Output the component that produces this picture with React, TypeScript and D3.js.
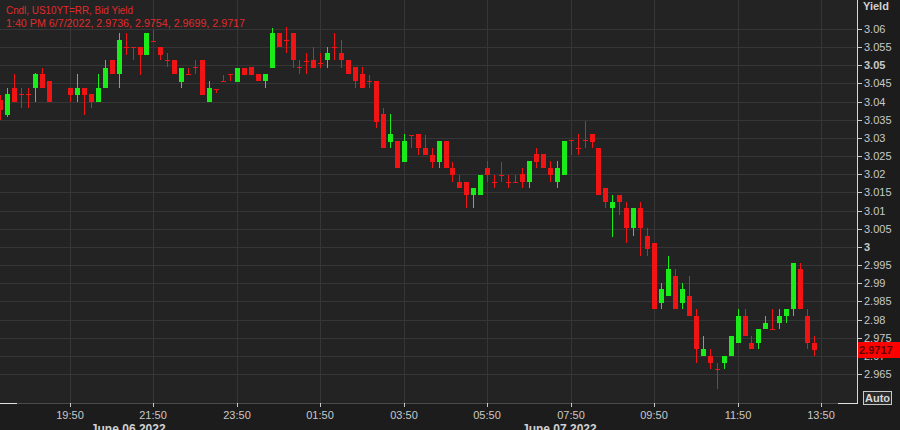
import React from 'react';
import * as d3 from 'd3';

const times = [
  "6/6 18:10","6/6 18:20","6/6 18:30","6/6 18:40","6/6 18:50","6/6 19:00","6/6 19:10","6/6 19:20",
  "6/6 19:50","6/6 20:00","6/6 20:10","6/6 20:20","6/6 20:30","6/6 20:40","6/6 20:50","6/6 21:00",
  "6/6 21:10","6/6 21:20","6/6 21:30","6/6 21:40","6/6 21:50","6/6 22:00","6/6 22:10","6/6 22:20",
  "6/6 22:30","6/6 22:40","6/6 22:50","6/6 23:00","6/6 23:10","6/6 23:20","6/6 23:30","6/6 23:40",
  "6/6 23:50","6/7 00:00","6/7 00:10","6/7 00:20","6/7 00:30","6/7 00:40","6/7 00:50","6/7 01:00",
  "6/7 01:10","6/7 01:20","6/7 01:30","6/7 01:40","6/7 01:50","6/7 02:00","6/7 02:10","6/7 02:20",
  "6/7 02:30","6/7 02:40","6/7 02:50","6/7 03:00","6/7 03:10","6/7 03:20","6/7 03:30","6/7 03:40",
  "6/7 03:50","6/7 04:00","6/7 04:10","6/7 04:20","6/7 04:30","6/7 04:40","6/7 04:50","6/7 05:00",
  "6/7 05:10","6/7 05:20","6/7 05:30","6/7 05:40","6/7 05:50","6/7 06:00","6/7 06:10","6/7 06:20",
  "6/7 06:30","6/7 06:40","6/7 06:50","6/7 07:00","6/7 07:10","6/7 07:20","6/7 07:30","6/7 07:40",
  "6/7 07:50","6/7 08:00","6/7 08:10","6/7 08:20","6/7 08:30","6/7 08:40","6/7 08:50","6/7 09:00",
  "6/7 09:10","6/7 09:20","6/7 09:30","6/7 09:40","6/7 09:50","6/7 10:00","6/7 10:10","6/7 10:20",
  "6/7 10:30","6/7 10:40","6/7 10:50","6/7 11:00","6/7 11:10","6/7 11:20","6/7 11:30","6/7 11:40",
  "6/7 11:50","6/7 12:00","6/7 12:10","6/7 12:20","6/7 12:30","6/7 12:40","6/7 12:50","6/7 13:00",
  "6/7 13:10","6/7 13:20","6/7 13:30","6/7 13:40",
];

const open = [
  3.0404,3.0363,3.0438,3.0422,3.0422,3.0438,3.0476,3.0457,
  3.0438,3.0418,3.0438,3.0421,3.0399,3.0438,3.0515,3.0476,
  3.0551,3.0551,3.055,3.0528,3.0568,3.055,3.0516,3.0515,
  3.0454,3.0477,3.0494,3.0515,3.0399,3.0436,3.0458,3.0477,
  3.0454,3.0493,3.0495,3.0476,3.0457,3.0493,3.0589,3.0571,
  3.0589,3.0494,3.0513,3.0515,3.0507,3.0515,3.0551,3.0534,
  3.0515,3.0495,3.0476,3.0458,3.0457,3.0366,3.0289,3.0292,
  3.0234,3.0309,3.0311,3.0272,3.0253,3.0234,3.0292,3.0217,
  3.0179,3.0179,3.0143,3.0143,3.0217,3.018,3.0199,3.018,
  3.018,3.0201,3.0179,3.0256,3.0256,3.0217,3.0179,3.0198,
  3.0293,3.0273,3.0293,3.0311,3.0272,3.0162,3.0107,3.0143,
  3.0107,3.0052,3.0107,3.003,3.0011,2.9845,2.9865,2.992,
  2.9845,2.9865,2.981,2.97,2.97,2.9665,2.968,2.97,
  2.9735,2.981,2.9735,2.9735,2.9774,2.9775,2.979,2.981,
  2.9829,2.9939,2.981,2.9736,
];

const high = [
  3.0418,3.0438,3.0476,3.0438,3.0438,3.0479,3.0493,3.0457,
  3.0438,3.0476,3.0438,3.0421,3.0476,3.0515,3.0515,3.0589,
  3.0589,3.0551,3.055,3.0589,3.0597,3.055,3.0534,3.0515,
  3.0493,3.0493,3.0515,3.0515,3.0457,3.0436,3.0473,3.0477,
  3.0493,3.0493,3.0495,3.0476,3.0476,3.0603,3.0589,3.0606,
  3.0589,3.0515,3.0534,3.055,3.0534,3.055,3.0589,3.057,
  3.0515,3.0495,3.0495,3.0473,3.0457,3.0382,3.0366,3.0292,
  3.0311,3.0309,3.0311,3.0308,3.0272,3.0292,3.0292,3.0234,
  3.0198,3.0179,3.0162,3.0198,3.0236,3.0198,3.0234,3.0198,
  3.0198,3.0217,3.0236,3.0272,3.0256,3.0236,3.0236,3.0292,
  3.0293,3.0311,3.0347,3.0311,3.0272,3.0162,3.0143,3.0143,
  3.0124,3.0107,3.0124,3.0052,3.0011,2.99,2.9975,2.9939,
  2.99,2.992,2.9829,2.9754,2.9719,2.968,2.97,2.9754,
  2.9829,2.9829,2.9754,2.9774,2.981,2.9829,2.9829,2.9829,
  2.9956,2.9956,2.9829,2.9754,
];

const low = [
  3.0349,3.0358,3.0399,3.0382,3.0382,3.0399,3.0438,3.0399,
  3.0399,3.0399,3.0363,3.0382,3.0399,3.0438,3.0476,3.0438,
  3.0528,3.0515,3.0473,3.0528,3.0567,3.0515,3.0495,3.0476,
  3.0438,3.0476,3.0476,3.0418,3.0399,3.0424,3.0457,3.0457,
  3.0454,3.0473,3.0473,3.0457,3.0438,3.0493,3.055,3.0534,
  3.0493,3.0476,3.0476,3.0493,3.0493,3.0493,3.0515,3.0493,
  3.0476,3.0438,3.0438,3.0438,3.0327,3.0272,3.0272,3.0217,
  3.0234,3.0272,3.0253,3.0253,3.0217,3.0217,3.0217,3.0179,
  3.0162,3.0107,3.0107,3.0143,3.0179,3.0162,3.0179,3.0162,
  3.0179,3.0162,3.0162,3.0217,3.0217,3.0179,3.0162,3.0198,
  3.0253,3.0253,3.0272,3.0272,3.0143,3.0107,3.0027,3.0088,
  3.0011,3.003,2.9975,2.9975,2.9829,2.9829,2.9865,2.9829,
  2.9829,2.981,2.968,2.97,2.9664,2.9609,2.9664,2.97,
  2.9735,2.9754,2.9719,2.9719,2.9774,2.9774,2.9774,2.979,
  2.981,2.9829,2.9719,2.9699,
];

const close = [
  3.0377,3.0421,3.0399,3.0421,3.0421,3.0476,3.0438,3.0399,
  3.0418,3.0438,3.0418,3.0399,3.0438,3.0493,3.0476,3.057,
  3.055,3.055,3.0528,3.0589,3.0567,3.0528,3.0515,3.0476,
  3.0493,3.0476,3.0493,3.0418,3.0438,3.0435,3.0457,3.0476,
  3.0493,3.0473,3.0473,3.0457,3.0476,3.0589,3.055,3.057,
  3.0515,3.0493,3.0512,3.0493,3.0506,3.0534,3.055,3.0515,
  3.0476,3.0457,3.0438,3.0457,3.0344,3.0272,3.0311,3.0217,
  3.0292,3.0308,3.0272,3.0253,3.0234,3.0292,3.0217,3.0198,
  3.0162,3.0143,3.0162,3.0198,3.0198,3.0179,3.0198,3.0179,
  3.0179,3.0179,3.0236,3.0234,3.0217,3.0198,3.0217,3.0292,
  3.0292,3.0272,3.0292,3.0289,3.0143,3.0124,3.0124,3.0124,
  3.0052,3.0107,3.0052,2.9995,2.9829,2.9884,2.9939,2.9829,
  2.9884,2.981,2.9719,2.9719,2.968,2.9664,2.97,2.9754,
  2.981,2.9754,2.9719,2.9774,2.979,2.9774,2.981,2.9829,
  2.9956,2.9829,2.9735,2.9717,
];

const xTickTimes = [
  "6/6 19:50","6/6 21:50","6/6 23:50","6/7 01:50","6/7 03:50",
  "6/7 05:50","6/7 07:50","6/7 09:50","6/7 11:50","6/7 13:50",
];
const yTickValues = [
  2.965,2.97,2.975,2.98,2.985,2.99,2.995,3,3.005,3.01,
  3.015,3.02,3.025,3.03,3.035,3.04,3.045,3.05,3.055,3.06,
];
const dateLabels = ["June 06 2022", "June 07 2022"];
const dateLabelTimes = ["6/6 20:20", "6/7 06:40"];
const legendTitle = "Cndl, US10YT=RR, Bid Yield";
const legendValues = "1:40 PM 6/7/2022, 2.9736, 2.9754, 2.9699, 2.9717";
const axisTitle = "Yield";
const lastPrice = 2.9717;
const domainStart = "6/6 19:50";
const domainEnd = "6/7 13:50";

const W = 900, H = 430;
const PR = 857, PB = 403;
const parse = d3.utcParse("%m/%d %H:%M");
const fmtTime = d3.utcFormat("%H:%M");
const FONT = "'Liberation Sans', Arial, sans-serif";
const UP = "#19ec19";
const DOWN = "#f01414";

export default function App() {
  const x = d3.scaleUtc()
    .domain([parse(domainStart)!, parse(domainEnd)!])
    .range([70, 821]);
  const y = d3.scaleLinear().domain([2.965, 3.06]).range([374, 29]);

  const candles = times.map((t, i) => ({
    t: parse(t)!, o: open[i], h: high[i], l: low[i], c: close[i],
  }));

  const fmtY = (v: number) => String(+v.toFixed(3));

  return (
    <svg width={W} height={H} style={{ position: 'fixed', left: 0, top: 0, display: 'block' }}>
      <rect x={0} y={0} width={W} height={H} fill="#1c1c1c" />
      <rect x={0} y={0} width={PR} height={PB} fill="#232323" />
      <defs>
        <clipPath id="plot"><rect x={0} y={0} width={PR} height={PB} /></clipPath>
      </defs>
      {yTickValues.map(v => (
        <line key={'gy' + v} x1={0} x2={PR} y1={Math.round(y(v)) + 0.5} y2={Math.round(y(v)) + 0.5}
          stroke="#363636" strokeWidth={1} />
      ))}
      {xTickTimes.map(t => {
        const xx = Math.round(x(parse(t)!)) + 0.5;
        return <line key={'gx' + t} x1={xx} x2={xx} y1={0} y2={PB} stroke="#363636" strokeWidth={1} />;
      })}
      <g clipPath="url(#plot)">
        {candles.map((d, i) => {
          const cx = Math.round(x(d.t));
          const upC = d.c > d.o;
          const col = upC ? UP : DOWN;
          const yTop = Math.round(y(Math.max(d.o, d.c)));
          const yBot = Math.round(y(Math.min(d.o, d.c)));
          const yh = Math.round(y(d.h));
          const yl = Math.round(y(d.l));
          return (
            <g key={i}>
              <rect x={cx} y={yh} width={1} height={Math.max(1, yl - yh)} fill={col} />
              <rect x={cx - 2} y={yTop} width={5} height={Math.max(1, yBot - yTop)} fill={col} />
            </g>
          );
        })}
      </g>
      <text x={6} y={14} fill="#e02a2a" fontFamily={FONT} fontSize={10.5}
        textLength={127} lengthAdjust="spacingAndGlyphs">{legendTitle}</text>
      <text x={6} y={27} fill="#e02a2a" fontFamily={FONT} fontSize={10.5}
        textLength={239} lengthAdjust="spacingAndGlyphs">{legendValues}</text>
      <line x1={0} x2={PR} y1={PB + 0.5} y2={PB + 0.5} stroke="#4a4a4a" />
      <line x1={0} x2={17} y1={PB + 0.5} y2={PB + 0.5} stroke="#e0e0e0" />
      <line x1={838} x2={PR + 1} y1={PB + 0.5} y2={PB + 0.5} stroke="#e0e0e0" />
      <line x1={PR + 0.5} x2={PR + 0.5} y1={0} y2={PB + 1} stroke="#d8d8d8" />
      <text x={863} y={10} fill="#d0d0d0" fontFamily={FONT} fontSize={11} fontWeight="bold">{axisTitle}</text>
      {yTickValues.map(v => {
        const yy = Math.round(y(v));
        const bold = Math.abs(v * 20 - Math.round(v * 20)) < 1e-6;
        return (
          <g key={'ty' + v}>
            <line x1={PR} x2={PR + 5} y1={yy + 0.5} y2={yy + 0.5} stroke="#c8c8c8" />
            <text x={864} y={yy + 4} fill="#c8c8c8" fontFamily={FONT} fontSize={11}
              fontWeight={bold ? 'bold' : 'normal'}>{fmtY(v)}</text>
          </g>
        );
      })}
      <rect x={PR + 1} y={Math.round(y(lastPrice)) - 8} width={W - PR - 1} height={16} fill="#ff0000" />
      <text x={859} y={Math.round(y(lastPrice)) + 4} fill="#5a0000" fontFamily={FONT} fontSize={11}
        fontWeight="bold">{lastPrice.toFixed(4)}</text>
      {xTickTimes.map(t => {
        const xx = Math.round(x(parse(t)!));
        return (
          <g key={'tx' + t}>
            <line x1={xx + 0.5} x2={xx + 0.5} y1={PB} y2={PB + 4} stroke="#c8c8c8" />
            <text x={xx} y={419} textAnchor="middle" fill="#c8c8c8" fontFamily={FONT} fontSize={11}>
              {fmtTime(parse(t)!)}
            </text>
          </g>
        );
      })}
      {dateLabels.map((s, i) => (
        <text key={s} x={x(parse(dateLabelTimes[i])!)} y={433} fill="#d0d0d0" fontFamily={FONT}
          fontSize={12} fontWeight="bold">{s}</text>
      ))}
      <rect x={863.5} y={391.5} width={28} height={13} fill="#2a2a2a" stroke="#c8c8c8" />
      <text x={877.5} y={402} textAnchor="middle" fill="#d8d8d8" fontFamily={FONT} fontSize={11}
        fontWeight="bold">Auto</text>
    </svg>
  );
}
